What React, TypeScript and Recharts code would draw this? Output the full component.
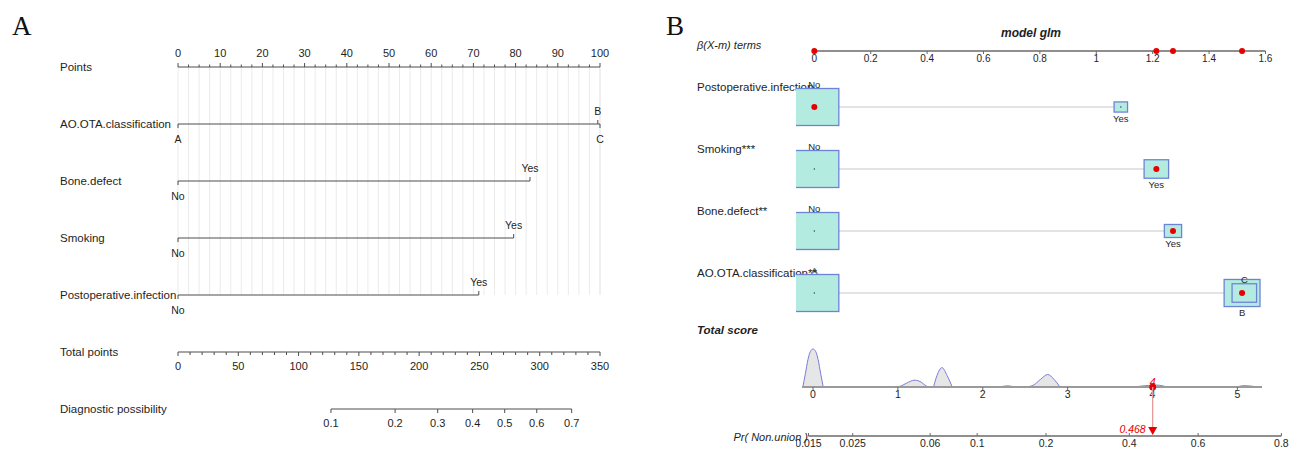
import React from 'react';
import { Area, CartesianGrid, ComposedChart, ReferenceLine, Scatter, XAxis, YAxis } from 'recharts';

const SANS = '"Liberation Sans", Arial, Helvetica, sans-serif';
const SERIF = '"Liberation Serif", "Times New Roman", serif';
const INK = '#1e1e1e';
const AXIS = '#4d4d4d';
const AXIS_B = '#6a6a6a';
const RED = '#e60000';
const BOX_FILL = '#b4ebe0';
const BOX_EDGE = '#6d84d6';
const BOX_MAX = 49;

// logistic model (intercept + coefficients per level)
const intercept = -4.132;

const postopLevels = [
  { level: 'No', beta: 0, freq: 0.93 },
  { level: 'Yes', beta: 1.087, freq: 0.07 },
];
const smokingLevels = [
  { level: 'No', beta: 0, freq: 0.8 },
  { level: 'Yes', beta: 1.213, freq: 0.2 },
];
const boneLevels = [
  { level: 'No', beta: 0, freq: 0.89 },
  { level: 'Yes', beta: 1.272, freq: 0.11 },
];
const aoLevels = [
  { level: 'A', beta: 0, freq: 0.56 },
  { level: 'B', beta: 1.517, freq: 0.3 },
  { level: 'C', beta: 1.525, freq: 0.14 },
];

const terms = [
  { name: 'Postoperative.infection', stars: '', levels: postopLevels, chosen: 'No' },
  { name: 'Smoking', stars: '***', levels: smokingLevels, chosen: 'Yes' },
  { name: 'Bone.defect', stars: '**', levels: boneLevels, chosen: 'Yes' },
  { name: 'AO.OTA.classification', stars: '**', levels: aoLevels, chosen: 'B' },
];

const pointsLabels = [0, 10, 20, 30, 40, 50, 60, 70, 80, 90, 100];
const totalPointsLabels = [0, 50, 100, 150, 200, 250, 300, 350];
const diagnosticLabels = [0.1, 0.2, 0.3, 0.4, 0.5, 0.6, 0.7];
const betaLabels = [0, 0.2, 0.4, 0.6, 0.8, 1, 1.2, 1.4, 1.6];
const scoreLabels = [0, 1, 2, 3, 4, 5];
const prLabels = [0.015, 0.025, 0.06, 0.1, 0.2, 0.4, 0.6, 0.8];

// total score density, read from the bumps under "Total score"
const scoreDensity = [
  { s: -0.12, d: 0 }, { s: -0.09, d: 0.35 }, { s: -0.06, d: 0.72 }, { s: -0.03, d: 0.94 },
  { s: 0, d: 1 }, { s: 0.03, d: 0.94 }, { s: 0.06, d: 0.72 }, { s: 0.09, d: 0.35 }, { s: 0.12, d: 0 },
  { s: 0.5, d: null },
  { s: 0.98, d: 0 }, { s: 1.04, d: 0.03 }, { s: 1.1, d: 0.1 }, { s: 1.2, d: 0.18 },
  { s: 1.28, d: 0.12 }, { s: 1.33, d: 0.03 }, { s: 1.36, d: 0 },
  { s: 1.39, d: null },
  { s: 1.42, d: 0 }, { s: 1.46, d: 0.3 }, { s: 1.52, d: 0.51 }, { s: 1.58, d: 0.3 }, { s: 1.64, d: 0 },
  { s: 1.9, d: null },
  { s: 2.2, d: 0 }, { s: 2.29, d: 0.03 }, { s: 2.38, d: 0 },
  { s: 2.44, d: null },
  { s: 2.5, d: 0 }, { s: 2.59, d: 0.04 }, { s: 2.68, d: 0.2 }, { s: 2.765, d: 0.33 },
  { s: 2.84, d: 0.2 }, { s: 2.91, d: 0 },
  { s: 3.4, d: null },
  { s: 3.78, d: 0 }, { s: 3.95, d: 0.04 }, { s: 4.05, d: 0.05 }, { s: 4.17, d: 0 },
  { s: 4.5, d: null },
  { s: 4.99, d: 0 }, { s: 5.08, d: 0.035 }, { s: 5.24, d: 0 },
];

// ---- derived ----
const logit = (p: number) => Math.log(p / (1 - p));
const maxBeta = Math.max(...terms.flatMap((t) => t.levels.map((l) => l.beta)));
const ptsPerBeta = 100 / maxBeta;
const chosenBetas = terms.map((t) => t.levels.find((l) => l.level === t.chosen)!.beta);
const totalScore = chosenBetas.reduce((a, b) => a + b, 0);
const predicted = 1 / (1 + Math.exp(-(intercept + totalScore)));

const pointsMinor = Array.from({ length: 41 }, (_, i) => i * 2.5);
const totalMinor = Array.from({ length: 36 }, (_, i) => i * 10);

const rowsA = [...terms].reverse();
const marksA = rowsA.map((t, i) =>
  [...t.levels]
    .sort((a, b) => a.beta - b.beta)
    .map((l, j) => ({ x: l.beta * ptsPerBeta, y: i + 1, label: l.level, side: j % 2 === 0 ? 'below' : 'above' })),
);
const totalTicks = totalMinor.map((v) => ({ x: v, y: 0, major: totalPointsLabels.includes(v) }));
const diagTicks = diagnosticLabels.map((p) => ({ x: (logit(p) - intercept) * ptsPerBeta, y: 0, label: String(p) }));

const boxesB = terms.map((t, i) => {
  const top = Math.max(...t.levels.map((l) => l.freq));
  return t.levels.map((l, j) => ({
    x: l.beta,
    y: i + 1,
    label: l.level,
    rel: l.freq / top,
    side: j % 2 === 0 ? 'above' : 'below',
  }));
});
const chosenB = terms.map((t, i) => ({ x: chosenBetas[i], y: i + 1 }));
const betaTicks = betaLabels.map((v) => ({ x: v, y: 0, label: String(v) }));
const betaDots = chosenBetas.map((b) => ({ x: b, y: 0 }));
const prTicks = prLabels.map((p) => ({ x: logit(p) - intercept, y: 0, label: String(p) }));
const scoreDot = [{ s: totalScore, d: 0, label: String(Math.round(totalScore)) }];
const prArrow = [{ x: totalScore, y: 0, label: predicted.toFixed(3) }];

// ---- shapes ----
const txt = { fontFamily: SANS, fill: INK } as const;

const PointsTick = (p: any) => {
  const major = pointsLabels.includes(p.payload.value);
  return (
    <g>
      <line x1={p.x} x2={p.x} y1={p.y} y2={p.y - (major ? 4 : 2.5)} stroke={AXIS} />
      {major && (
        <text x={p.x} y={p.y - 10} textAnchor="middle" fontSize={11} {...txt}>
          {p.payload.value}
        </text>
      )}
    </g>
  );
};

const LevelTickA = (p: any) => {
  const up = p.payload.side === 'above';
  return (
    <g>
      <line x1={p.cx} x2={p.cx} y1={p.cy} y2={up ? p.cy - 4 : p.cy + 4} stroke={AXIS} />
      <text x={p.cx} y={up ? p.cy - 9 : p.cy + 19} textAnchor="middle" fontSize={10.5} {...txt}>
        {p.payload.label}
      </text>
    </g>
  );
};

const TotalTick = (p: any) => (
  <g>
    <line x1={p.cx} x2={p.cx} y1={p.cy} y2={p.cy + (p.payload.major ? 4 : 3)} stroke={AXIS} />
    {p.payload.major && (
      <text x={p.cx} y={p.cy + 18} textAnchor="middle" fontSize={11} {...txt}>
        {p.payload.x}
      </text>
    )}
  </g>
);

const DiagTick = (p: any) => (
  <g>
    <line x1={p.cx} x2={p.cx} y1={p.cy} y2={p.cy + 4} stroke={AXIS} />
    <text x={p.cx} y={p.cy + 18} textAnchor="middle" fontSize={11} {...txt}>
      {p.payload.label}
    </text>
  </g>
);

const BetaTick = (p: any) => (
  <g>
    <line x1={p.cx} x2={p.cx} y1={p.cy} y2={p.cy + 3} stroke={AXIS_B} />
    <text x={p.cx} y={p.cy + 11} textAnchor="middle" fontSize={10} {...txt}>
      {p.payload.label}
    </text>
  </g>
);

const RedDot = (p: any) => <circle cx={p.cx} cy={p.cy} r={3} fill={RED} />;

const LevelBox = (p: any) => {
  const w = BOX_MAX * Math.sqrt(p.payload.rel);
  const h = w * 0.755;
  const above = p.payload.side === 'above';
  return (
    <g>
      <rect x={p.cx - w / 2} y={p.cy - h / 2} width={w} height={h} fill={BOX_FILL} stroke={BOX_EDGE} strokeWidth={1.3} />
      <circle cx={p.cx} cy={p.cy} r={0.7} fill="#333" />
      <text x={p.cx} y={above ? p.cy - h / 2 - 1 : p.cy + h / 2 + 9.5} textAnchor="middle" fontSize={9.5} {...txt}>
        {p.payload.label}
      </text>
    </g>
  );
};

const ScoreTick = (p: any) => (
  <g>
    <line x1={p.x} x2={p.x} y1={p.y} y2={p.y + 3} stroke={AXIS_B} />
    <text x={p.x} y={p.y + 11} textAnchor="middle" fontSize={10.5} {...txt}>
      {p.payload.value}
    </text>
  </g>
);

const ScoreMark = (p: any) => (
  <g>
    <circle cx={p.cx} cy={p.cy} r={3.5} fill={RED} />
    <text x={p.cx} y={p.cy - 1} textAnchor="middle" fontSize={10.5} fontStyle="italic" fontFamily={SANS} fill={RED}>
      {p.payload.label}
    </text>
  </g>
);

const PrTick = (p: any) => (
  <g>
    <line x1={p.cx} x2={p.cx} y1={p.cy} y2={p.cy - 3} stroke={AXIS_B} />
    <text x={p.cx} y={p.cy + 10.5} textAnchor="middle" fontSize={10.5} {...txt}>
      {p.payload.label}
    </text>
  </g>
);

const PrArrow = (p: any) => (
  <g>
    <path d={`M${p.cx - 4.5},${p.cy - 9} L${p.cx + 4.5},${p.cy - 9} L${p.cx},${p.cy - 1} Z`} fill={RED} />
    <text x={p.cx - 7} y={p.cy - 3} textAnchor="end" fontSize={10.5} fontStyle="italic" fontFamily={SANS} fill={RED}>
      {p.payload.label}
    </text>
  </g>
);

const place = (left: number, top: number): React.CSSProperties => ({ position: 'absolute', left, top });

export default function App() {
  return (
    <div style={{ position: 'absolute', left: 0, top: 0, width: 1301, height: 451, background: '#fff', overflow: 'hidden' }}>
      {/* free text: panel letters, row names, titles */}
      <svg width={1301} height={451} style={place(0, 0)}>
        <text x={12} y={35} fontFamily={SERIF} fontSize={27} fill="#111">A</text>
        {['Points', ...rowsA.map((t) => t.name), 'Total points', 'Diagnostic possibility'].map((n, i) => (
          <text key={n} x={60} y={67 + i * 57 + 4} fontSize={11.5} {...txt}>
            {n}
          </text>
        ))}
        <text x={666} y={35} fontFamily={SERIF} fontSize={27} fill="#111">B</text>
        <text x={1031} y={36.5} textAnchor="middle" fontSize={12} fontWeight="bold" fontStyle="italic" {...txt}>
          model glm
        </text>
        <text x={697} y={49} fontSize={11} fontStyle="italic" {...txt}>
          β(X-m) terms
        </text>
        {terms.map((t, i) => (
          <text key={t.name} x={697} y={91 + i * 62} fontSize={11.5} {...txt}>
            {t.name + t.stars}
          </text>
        ))}
        <text x={697} y={333.5} fontSize={11.5} fontWeight="bold" fontStyle="italic" {...txt}>
          Total score
        </text>
        <text x={808} y={441} textAnchor="end" fontSize={11} fontStyle="italic" {...txt}>
          Pr( Non.union )
        </text>
      </svg>

      {/* ---------- panel A ---------- */}
      <div style={place(0, 0)}>
        <ComposedChart width={650} height={320} margin={{ top: 37, right: 50, bottom: 25, left: 178 }}>
          <CartesianGrid vertical horizontal={false} stroke="#ebebeb" />
          <XAxis
            orientation="top"
            type="number"
            dataKey="x"
            domain={[0, 100]}
            ticks={pointsMinor}
            interval={0}
            height={30}
            tickSize={0}
            tickMargin={0}
            tickLine={false}
            axisLine={{ stroke: AXIS }}
            tick={(p: any) => <PointsTick {...p} />}
          />
          <YAxis hide type="number" dataKey="y" domain={[0, 4]} reversed />
          {marksA.map((d, i) => (
            <Scatter key={i} data={d} line={{ stroke: AXIS, strokeWidth: 1 }} shape={LevelTickA} isAnimationActive={false} />
          ))}
        </ComposedChart>
      </div>
      <div style={place(0, 322)}>
        <ComposedChart width={650} height={60} margin={{ top: 0, right: 50, bottom: 30, left: 178 }}>
          <XAxis hide type="number" dataKey="x" domain={[0, 350]} />
          <YAxis hide type="number" dataKey="y" domain={[0, 1]} />
          <Scatter data={totalTicks} line={{ stroke: AXIS, strokeWidth: 1 }} shape={TotalTick} isAnimationActive={false} />
        </ComposedChart>
      </div>
      <div style={place(0, 377)}>
        <ComposedChart width={650} height={60} margin={{ top: 0, right: 50, bottom: 28, left: 178 }}>
          <XAxis hide type="number" dataKey="x" domain={[0, 350]} />
          <YAxis hide type="number" dataKey="y" domain={[0, 1]} />
          <Scatter data={diagTicks} line={{ stroke: AXIS, strokeWidth: 1 }} shape={DiagTick} isAnimationActive={false} />
        </ComposedChart>
      </div>

      {/* ---------- panel B ---------- */}
      <div style={place(650, 0)}>
        <ComposedChart width={651} height={70} margin={{ top: 0, right: 11, bottom: 19, left: 146 }}>
          <XAxis hide type="number" dataKey="x" domain={[-0.065, 1.687]} allowDataOverflow />
          <YAxis hide type="number" dataKey="y" domain={[0, 1]} />
          <Scatter data={betaTicks} line={{ stroke: AXIS_B, strokeWidth: 1.3 }} shape={BetaTick} isAnimationActive={false} />
          <Scatter data={betaDots} shape={RedDot} isAnimationActive={false} />
        </ComposedChart>
      </div>
      <div style={place(650, 76)}>
        <ComposedChart width={651} height={248} margin={{ top: 0, right: 11, bottom: 0, left: 146 }}>
          <XAxis hide type="number" dataKey="x" domain={[-0.065, 1.687]} allowDataOverflow />
          <YAxis hide type="number" dataKey="y" domain={[0.5, 4.5]} reversed />
          {boxesB.map((d, i) => (
            <Scatter key={i} data={d} line={{ stroke: '#dadada', strokeWidth: 1.5 }} shape={LevelBox} isAnimationActive={false} />
          ))}
          <Scatter data={chosenB} shape={RedDot} isAnimationActive={false} />
        </ComposedChart>
      </div>
      <div style={place(650, 330)}>
        <ComposedChart data={scoreDensity} width={651} height={73} margin={{ top: 0, right: 39, bottom: 0, left: 152 }}>
          <YAxis hide type="number" dataKey="d" domain={[0, 1.5]} />
          <Area
            type="monotone"
            dataKey="d"
            stroke="#7b7bdc"
            strokeWidth={1}
            fill="#e6e6e6"
            fillOpacity={1}
            connectNulls={false}
            dot={false}
            activeDot={false}
            isAnimationActive={false}
          />
          <XAxis
            type="number"
            dataKey="s"
            domain={[-0.13, 5.29]}
            ticks={scoreLabels}
            interval={0}
            height={16}
            tickSize={0}
            tickMargin={0}
            tickLine={false}
            axisLine={{ stroke: '#9a9a9a', strokeWidth: 2 }}
            tick={(p: any) => <ScoreTick {...p} />}
          />
          <Scatter data={scoreDot} shape={ScoreMark} isAnimationActive={false} />
        </ComposedChart>
      </div>
      <div style={place(650, 387)}>
        <ComposedChart width={651} height={64} margin={{ top: 0, right: 11, bottom: 15, left: 146 }}>
          <XAxis hide type="number" dataKey="x" domain={[-0.2, 5.62]} allowDataOverflow />
          <YAxis hide type="number" dataKey="y" domain={[0, 1]} />
          <ReferenceLine
            segment={[
              { x: totalScore, y: 1 },
              { x: totalScore, y: 0.18 },
            ]}
            stroke="#e89a9a"
            strokeWidth={1.3}
          />
          <Scatter data={prTicks} line={{ stroke: AXIS_B, strokeWidth: 1.3 }} shape={PrTick} isAnimationActive={false} />
          <Scatter data={prArrow} shape={PrArrow} isAnimationActive={false} />
        </ComposedChart>
      </div>
    </div>
  );
}
